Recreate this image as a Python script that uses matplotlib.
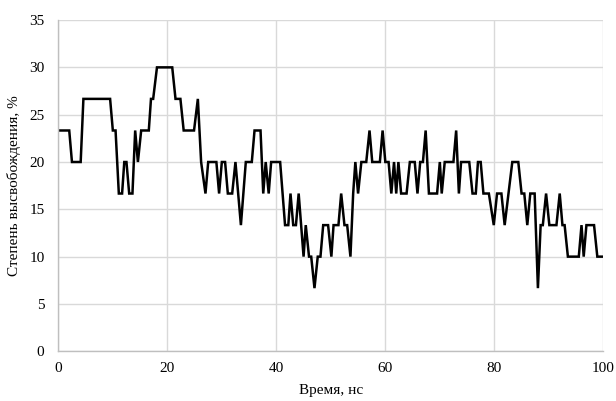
import matplotlib
matplotlib.use("Agg")
import matplotlib.pyplot as plt

# Vertices of the curve (time in ns, release in %)
time_ns = [
    0, 2.0, 2.5, 4.1, 4.6, 9.5, 10.0, 10.5, 11.1, 11.7, 12.1, 12.5, 13.0, 13.6,
    14.1, 14.6, 15.2, 16.6, 17.0, 17.4, 18.1, 20.9, 21.5, 22.4, 23.0, 24.9,
    25.6, 26.2, 27.0, 27.5, 29.0, 29.5, 30.0, 30.6, 31.1, 31.9, 32.5, 33.5,
    34.4, 35.5, 36.0, 37.1, 37.6, 38.05, 38.6, 39.05, 40.7, 41.6, 42.2, 42.6,
    43.1, 43.6, 44.1, 45.0, 45.4, 46.0, 46.4, 47.0, 47.6, 48.1, 48.6, 49.5,
    50.1, 50.5, 51.4, 51.9, 52.5, 53.0, 53.6, 54.1, 54.5, 55.0, 55.6, 56.5,
    57.1, 57.6, 59.0, 59.5, 60.0, 60.6, 61.1, 61.6, 62.0, 62.4, 62.9, 63.9,
    64.5, 65.4, 65.9, 66.4, 66.9, 67.4, 68.0, 69.5, 70.0, 70.35, 70.9, 72.5,
    73.0, 73.5, 73.9, 75.4, 76.0, 76.6, 77.0, 77.5, 78.0, 79.0, 79.9, 80.5,
    81.3, 81.9, 82.6, 83.3, 84.4, 85.0, 85.5, 86.05, 86.6, 87.4, 88.0, 88.5,
    88.9, 89.5, 90.1, 91.4, 92.0, 92.5, 92.9, 93.5, 95.5, 96.0, 96.4, 96.9,
    98.3, 98.9, 100,
]
release_pct = [
    23.33, 23.33, 20, 20, 26.67, 26.67, 23.33, 23.33, 16.67, 16.67, 20, 20, 16.67, 16.67,
    23.33, 20, 23.33, 23.33, 26.67, 26.67, 30, 30, 26.67, 26.67, 23.33, 23.33,
    26.67, 20, 16.67, 20, 20, 16.67, 20, 20, 16.67, 16.67, 20, 13.33,
    20, 20, 23.33, 23.33, 16.67, 20, 16.67, 20, 20, 13.33, 13.33, 16.67,
    13.33, 13.33, 16.67, 10, 13.33, 10, 10, 6.67, 10, 10, 13.33, 13.33,
    10, 13.33, 13.33, 16.67, 13.33, 13.33, 10, 16.67, 20, 16.67, 20, 20,
    23.33, 20, 20, 23.33, 20, 20, 16.67, 20, 16.67, 20, 16.67, 16.67,
    20, 20, 16.67, 20, 20, 23.33, 16.67, 16.67, 20, 16.67, 20, 20,
    23.33, 16.67, 20, 20, 16.67, 16.67, 20, 20, 16.67, 16.67, 13.33, 16.67,
    16.67, 13.33, 16.67, 20, 20, 16.67, 16.67, 13.33, 16.67, 16.67, 6.67, 13.33,
    13.33, 16.67, 13.33, 13.33, 16.67, 13.33, 13.33, 10, 10, 13.33, 10, 13.33,
    13.33, 10, 10,
]

x_ticks = [0, 20, 40, 60, 80, 100]
y_ticks = [0, 5, 10, 15, 20, 25, 30, 35]

plt.rcParams["font.family"] = ["Liberation Serif", "DejaVu Serif"]

fig = plt.figure(figsize=(6.16, 4.01), dpi=100)
ax = fig.add_axes([0.0947, 0.124, 0.8847, 0.826])

ax.plot(time_ns, release_pct, color="black", linewidth=1.8, solid_joinstyle="miter")

ax.set_xlim(0, 100)
ax.set_ylim(0, 35)
ax.set_xticks(x_ticks)
ax.set_yticks(y_ticks)
ax.grid(True, color="#d9d9d9", linewidth=1.0)
ax.set_axisbelow(True)
ax.tick_params(length=0, labelsize=11, pad=8)
ax.tick_params(axis="y", pad=10)

for side in ["top", "right"]:
    ax.spines[side].set_visible(False)
for side in ["left", "bottom"]:
    ax.spines[side].set_color("#bfbfbf")
    ax.spines[side].set_linewidth(1.0)

ax.set_xlabel("Время, нс", fontsize=11, labelpad=6)
ax.set_ylabel("Степень высвобождения, %", fontsize=11, labelpad=6)

fig.savefig("out.png", dpi=100)
